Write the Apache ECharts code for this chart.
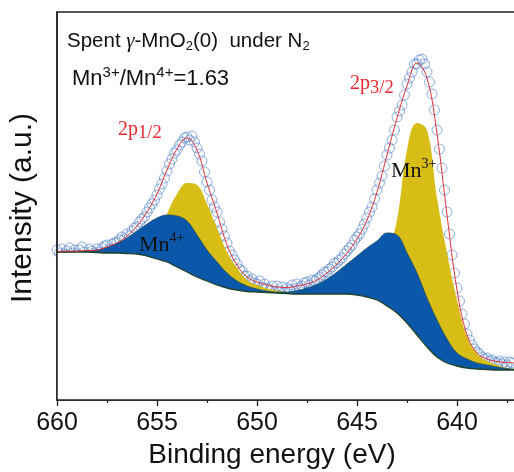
<!DOCTYPE html>
<html>
<head>
<meta charset="utf-8">
<script src="https://cdn.jsdelivr.net/npm/echarts@6/dist/echarts.min.js"></script>
<style>
html, body { margin: 0; padding: 0; background: #fff; }
#chart { width: 514px; height: 472px; }
</style>
</head>
<body>
<div id="chart"></div>
<script>
// binding energy grid of the fitted curves (eV)
var fitEnergy = [660, 659.5, 659, 658.5, 658, 657.5, 657, 656.5, 656, 655.5, 655, 654.5, 654, 653.5, 653, 652.5,
    652, 651.5, 651, 650.5, 650, 649.5, 649, 648.5, 648, 647.5, 647, 646.5, 646, 645.5, 645, 644.5,
    644, 643.5, 643, 642.5, 642, 641.5, 641, 640.5, 640, 639.5, 639, 638.5, 638, 637.5, 637];
// Shirley background
var background = [148, 148, 148, 148, 147.5, 147, 147, 146.5, 146, 144, 141, 138, 133, 128, 123, 119,
    115, 112, 110, 108.5, 108, 107.5, 107, 106.5, 106, 106, 106, 106, 106, 106, 105, 103,
    100, 94, 87, 77, 65, 53, 43, 37, 34, 32, 31, 30.5, 30, 30, 30];
// Mn4+ component, height above background
var mn4Peak = [0, 0, 0.5, 1, 2.5, 6, 10, 15.5, 23, 32, 41, 47, 51, 51, 42, 31,
    23, 15, 9, 5.5, 3, 1.5, 1, 1.5, 3.5, 6, 9.5, 15, 22, 30, 39, 49,
    59, 73, 78, 70, 62, 49, 37, 24, 13, 9, 6, 4.5, 3, 1.5, 0.5];
// Mn3+ component, height above background
var mn3Peak = [0, 0, 0, 0, 0, 0, 0, 0, 0.5, 6, 19, 48, 73, 89, 92, 77,
    57, 36, 22, 11.5, 7, 4, 2.5, 1.5, 1, 0.5, 0.5, 1, 2, 4, 7, 14,
    28, 52, 93, 173, 212, 217, 159, 110, 66, 31, 15, 8.5, 5, 2, 1];
// fitted envelope
var envelope = [148.5, 149, 149, 149.5, 150, 153, 157, 164, 174, 188, 206, 230, 251, 262, 250, 217,
    187, 155, 135, 123, 118, 115, 113, 112.5, 114, 116, 120, 127, 136, 147, 161, 180,
    208, 245, 282, 314, 337, 322, 266, 185, 110, 65, 47, 41, 38.5, 37.5, 37];

// measured spectrum
var rawEnergy = [
    660, 659.875, 659.75, 659.625, 659.5, 659.375, 659.25, 659.125,
    659, 658.875, 658.75, 658.625, 658.5, 658.375, 658.25, 658.125,
    658, 657.875, 657.75, 657.625, 657.5, 657.375, 657.25, 657.125,
    657, 656.875, 656.75, 656.625, 656.5, 656.375, 656.25, 656.125,
    656, 655.875, 655.75, 655.625, 655.5, 655.375, 655.25, 655.125,
    655, 654.875, 654.75, 654.625, 654.5, 654.375, 654.25, 654.125,
    654, 653.875, 653.75, 653.625, 653.5, 653.375, 653.25, 653.125,
    653, 652.875, 652.75, 652.625, 652.5, 652.375, 652.25, 652.125,
    652, 651.875, 651.75, 651.625, 651.5, 651.375, 651.25, 651.125,
    651, 650.875, 650.75, 650.625, 650.5, 650.375, 650.25, 650.125,
    650, 649.875, 649.75, 649.625, 649.5, 649.375, 649.25, 649.125,
    649, 648.875, 648.75, 648.625, 648.5, 648.375, 648.25, 648.125,
    648, 647.875, 647.75, 647.625, 647.5, 647.375, 647.25, 647.125,
    647, 646.875, 646.75, 646.625, 646.5, 646.375, 646.25, 646.125,
    646, 645.875, 645.75, 645.625, 645.5, 645.375, 645.25, 645.125,
    645, 644.875, 644.75, 644.625, 644.5, 644.375, 644.25, 644.125,
    644, 643.875, 643.75, 643.625, 643.5, 643.375, 643.25, 643.125,
    643, 642.875, 642.75, 642.625, 642.5, 642.375, 642.25, 642.125,
    642, 641.875, 641.75, 641.625, 641.5, 641.375, 641.25, 641.125,
    641, 640.875, 640.75, 640.625, 640.5, 640.375, 640.25, 640.125,
    640, 639.875, 639.75, 639.625, 639.5, 639.375, 639.25, 639.125,
    639, 638.875, 638.75, 638.625, 638.5, 638.375, 638.25, 638.125,
    638, 637.875, 637.75, 637.625, 637.5, 637.375, 637.25];
var rawIntensity = [
    150, 147, 151, 146, 149, 152, 147, 150,
    146, 150, 153, 148, 145, 151, 149, 147,
    151, 148, 152, 154, 155, 151, 156, 157,
    158, 160, 163, 161, 166, 164, 169, 172,
    173, 178, 181, 183, 188, 192, 196, 200,
    205, 211, 216, 222, 229, 236, 241, 247,
    250, 255, 258, 262, 263, 260, 264, 258,
    252, 246, 239, 228, 218, 210, 200, 193,
    188, 178, 171, 164, 157, 149, 145, 140,
    136, 131, 129, 124, 124, 119, 121, 117,
    116, 119, 113, 116, 112, 110, 114, 108,
    114, 109, 113, 107, 112, 110, 115, 111,
    116, 112, 114, 117, 118, 115, 120, 119,
    121, 123, 125, 128, 128, 131, 133, 137,
    137, 140, 142, 146, 149, 152, 155, 160,
    163, 166, 171, 176, 182, 188, 193, 201,
    210, 217, 224, 234, 245, 252, 260, 270,
    283, 289, 295, 305, 316, 322, 328, 336,
    336, 340, 341, 336, 328, 318, 306, 290,
    270, 251, 232, 210, 188, 166, 145, 127,
    112, 99, 86, 76, 66, 60, 55, 51,
    48, 46, 43, 41, 42, 39, 40, 38,
    37, 39, 36, 38, 35, 38, 37];

var energyRange = [635, 660];
var energyStep = 5;

function pairs(xs, ys) {
    return xs.map(function (x, i) {
        return [x, ys[i]];
    });
}

// component curves are drawn on top of the background
function onBackground(peak) {
    return peak.map(function (v, i) {
        return background[i] + v;
    });
}

var sans = 'Liberation Sans';
var serif = 'Liberation Serif';
var chart = echarts.init(document.getElementById('chart'));
var option = {
    animation: false,
    grid: {
        left: 57, top: 12, width: 500, bottom: 72,
        outerBoundsMode: 'none',
        containLabel: false,
        show: true, borderColor: '#222', borderWidth: 1.5
    },
    xAxis: {
        type: 'value',
        inverse: true,
        min: energyRange[0],
        max: energyRange[1],
        interval: energyStep,
        z: 10,
        axisLine: {lineStyle: {color: '#222', width: 1.5}},
        axisTick: {length: 6, lineStyle: {color: '#222', width: 1.3}},
        minorTick: {show: true, splitNumber: 2, length: 3, lineStyle: {color: '#222', width: 1.2}},
        splitLine: {show: false},
        axisLabel: {fontSize: 25, fontFamily: sans, color: '#111', margin: 11}
    },
    yAxis: {
        type: 'value',
        min: 0,
        max: 388,
        z: 10,
        axisLine: {show: true, lineStyle: {color: '#222', width: 1.5}},
        axisTick: {show: false},
        axisLabel: {show: false},
        splitLine: {show: false}
    },
    series: [{
        name: 'Mn3+', type: 'line', smooth: 0.4, symbol: 'none',
        data: pairs(fitEnergy, onBackground(mn3Peak)),
        lineStyle: {width: 0},
        areaStyle: {color: '#D8BD17', opacity: 1, origin: 'start'}
    }, {
        name: 'Mn4+', type: 'line', smooth: 0.4, symbol: 'none',
        data: pairs(fitEnergy, onBackground(mn4Peak)),
        lineStyle: {color: '#1d4f5c', width: 0.8},
        areaStyle: {color: '#0B58AA', opacity: 1, origin: 'start'}
    }, {
        name: 'Background', type: 'line', smooth: 0.4, symbol: 'none',
        data: pairs(fitEnergy, background),
        lineStyle: {color: '#21422a', width: 1.3},
        areaStyle: {color: '#fff', opacity: 1, origin: 'start'}
    }, {
        name: 'Data', type: 'scatter', symbol: 'circle', symbolSize: 10,
        data: pairs(rawEnergy, rawIntensity),
        itemStyle: {color: 'rgba(0,0,0,0)', borderColor: '#4E7FC6', borderWidth: 0.8}
    }, {
        name: 'Fit', type: 'line', smooth: 0.4, symbol: 'none',
        data: pairs(fitEnergy, envelope),
        lineStyle: {color: '#E0323A', width: 1}
    }],
    graphic: [{
        type: 'text', x: 67, y: 41,
        style: {
            text: '{a|Spent }{g|γ}{a|-MnO}{s|2}{a|(0)  under N}{s|2}',
            verticalAlign: 'middle',
            rich: {
                a: {fontFamily: sans, fontSize: 20.5, fill: '#111'},
                g: {fontFamily: serif, fontStyle: 'italic', fontSize: 21, fill: '#111'},
                s: {fontFamily: sans, fontSize: 13, fill: '#111', padding: [11, 0, 0, 0]}
            }
        }
    }, {
        type: 'text', x: 72, y: 79,
        style: {
            text: '{a|Mn}{p|3+}{a|/Mn}{p|4+}{a|=1.63}',
            verticalAlign: 'middle',
            rich: {
                a: {fontFamily: sans, fontSize: 22, fill: '#111'},
                p: {fontFamily: sans, fontSize: 15, fill: '#111', padding: [0, 0, 12, 0]}
            }
        }
    }, {
        type: 'text', x: 350, y: 84,
        style: {
            text: '{r|2p}{s|3/2}',
            verticalAlign: 'middle',
            rich: {
                r: {fontFamily: serif, fontSize: 20, fill: '#E8262B'},
                s: {fontFamily: serif, fontSize: 18.5, fill: '#E8262B', padding: [8, 0, 0, 0]}
            }
        }
    }, {
        type: 'text', x: 118, y: 129.5,
        style: {
            text: '{r|2p}{s|1/2}',
            verticalAlign: 'middle',
            rich: {
                r: {fontFamily: serif, fontSize: 20, fill: '#E8262B'},
                s: {fontFamily: serif, fontSize: 18.5, fill: '#E8262B', padding: [8, 0, 0, 0]}
            }
        }
    }, {
        type: 'text', x: 391, y: 171, z: 100,
        style: {
            text: '{m|Mn}{p|3+}',
            verticalAlign: 'middle',
            rich: {
                m: {fontFamily: serif, fontSize: 22, fill: '#111'},
                p: {fontFamily: serif, fontSize: 14, fill: '#111', padding: [0, 0, 14, 0]}
            }
        }
    }, {
        type: 'text', x: 139, y: 245.5, z: 100,
        style: {
            text: '{m|Mn}{p|4+}',
            verticalAlign: 'middle',
            rich: {
                m: {fontFamily: serif, fontSize: 22, fill: '#111'},
                p: {fontFamily: serif, fontSize: 14, fill: '#111', padding: [0, 0, 14, 0]}
            }
        }
    }, {
        type: 'text', x: 272, y: 455,
        style: {
            text: 'Binding energy (eV)',
            font: '28px "Liberation Sans"',
            fill: '#111', align: 'center', verticalAlign: 'middle'
        }
    }, {
        type: 'text', x: 23, y: 208, rotation: Math.PI / 2,
        style: {
            text: 'Intensity (a.u.)',
            font: '30px "Liberation Sans"',
            fill: '#111', align: 'center', verticalAlign: 'middle'
        }
    }]
};
chart.setOption(option);
</script>
</body>
</html>
